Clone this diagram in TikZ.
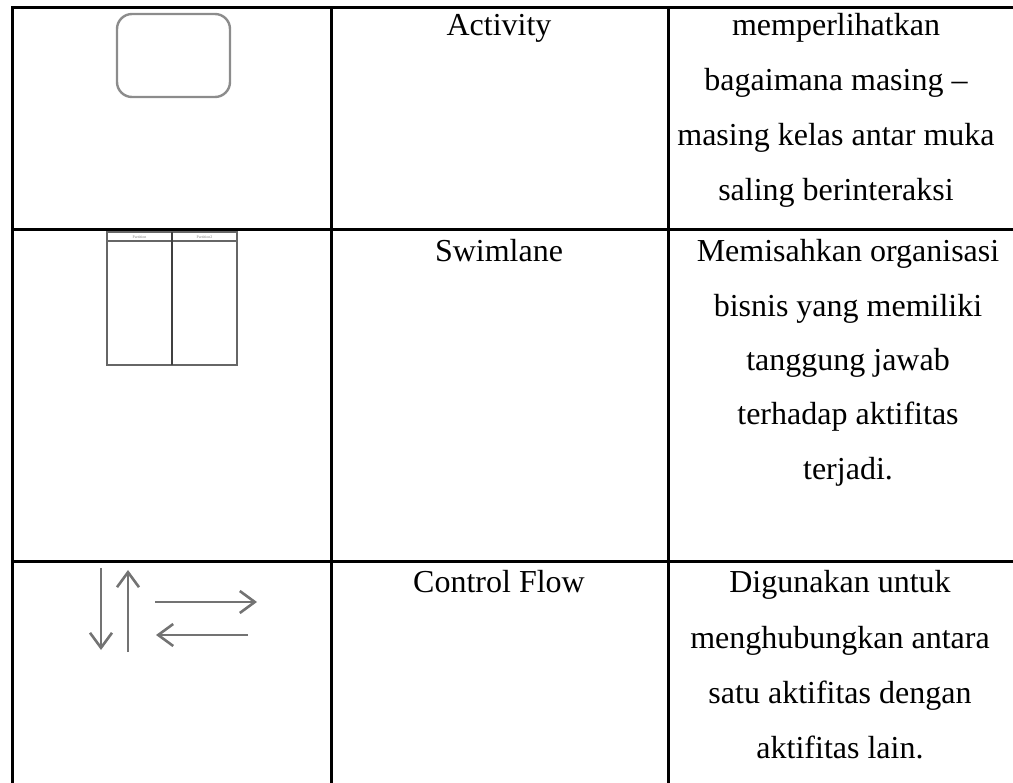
\documentclass[tikz,border=0pt]{standalone}
\usepackage{fontspec}
\setmainfont{Liberation Serif}
\usetikzlibrary{arrows.meta}

\tikzset{
  grid line/.style={black, line width=3pt},
  symbol/.style={draw=black!45, line width=2.4pt},
  flow/.style={black!55, line width=2.6pt, -{Straight Barb[length=15pt,width=22pt]}},
  cell/.style={anchor=base, inner sep=0pt, font=\fontsize{32}{40}\selectfont},
}

\begin{document}
\begin{tikzpicture}[x=1pt,y=-1pt]
\useasboundingbox (0,0) rectangle (1013,783);
\clip (0,0) rectangle (1013,783);
%\draw [lightgray](0,0) grid (1013,783);

% table
\draw [grid line](12,795) -- (12,8) -- (1025,8);
\draw [grid line](331,8) -- (331,795);
\draw [grid line](668,8) -- (668,795);
\draw [grid line](12,230) -- (1025,230);
\draw [grid line](12,562) -- (1025,562);

% symbols
\node [symbol, rounded corners=15pt, minimum width=113pt, minimum height=83pt] (actbox) at (173.5,55.5) {};

\draw [symbol, draw=black!60](107,232) rectangle (237,365);
\draw [symbol, draw=black!60](107,241) -- (237,241);
\draw [symbol, draw=black!75](172,232) -- (172,365);
\node [font=\fontsize{4}{4}\selectfont, text=gray] (lane1) at (139.5,236.8){Partition};
\node [font=\fontsize{4}{4}\selectfont, text=gray] (lane2) at (204.5,236.8){Partition2};

\coordinate (downtop) at (101,568);
\coordinate (downend) at (101,650);
\coordinate (upbot) at (128,652);
\coordinate (uptop) at (128,570);
\coordinate (rightbeg) at (155,602);
\coordinate (rightend) at (257,602);
\coordinate (leftbeg) at (248,635);
\coordinate (leftend) at (156,635);
\draw [flow](downtop) -- (downend);
\draw [flow](upbot) -- (uptop);
\draw [flow](rightbeg) -- (rightend);
\draw [flow](leftbeg) -- (leftend);

% names
\node [cell] (actname) at (499,36){Activity};
\node [cell] (swimname) at (499,262){Swimlane};
\node [cell] (flowname) at (499,592){Control Flow};

% descriptions
\foreach \txt [count=\i] in {memperlihatkan, bagaimana masing --, masing kelas antar muka, saling berinteraksi}
  \node [cell] (actdesc\i) at (836,{36+55*(\i-1)}){\txt};
\foreach \txt [count=\i] in {Memisahkan organisasi, bisnis yang memiliki, tanggung jawab, terhadap aktifitas, terjadi.}
  \node [cell] (swimdesc\i) at (848,{262+54.3*(\i-1)}){\txt};
\foreach \txt [count=\i] in {Digunakan untuk, menghubungkan antara, satu aktifitas dengan, aktifitas lain.}
  \node [cell] (flowdesc\i) at (840,{593+55*(\i-1)}){\txt};
\end{tikzpicture}
\end{document}
